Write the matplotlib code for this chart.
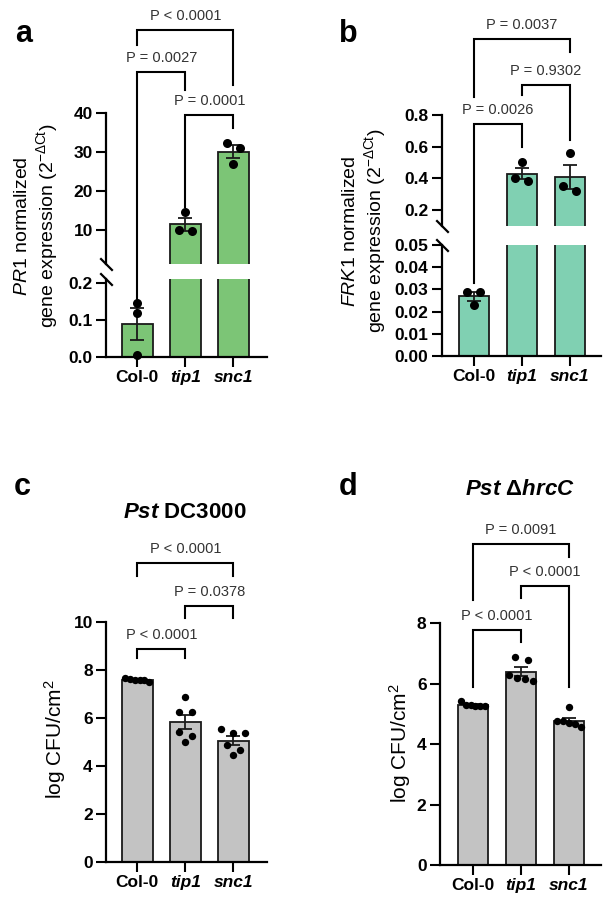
import numpy as np
import matplotlib
matplotlib.use("Agg")
import matplotlib.pyplot as plt

plt.rcParams['font.family'] = ['Liberation Sans', 'DejaVu Sans']
plt.rcParams['mathtext.fontset'] = 'custom'
plt.rcParams['mathtext.rm'] = 'Liberation Sans'
plt.rcParams['mathtext.it'] = 'Liberation Sans:italic'
plt.rcParams['mathtext.bf'] = 'Liberation Sans:bold'
plt.rcParams['mathtext.bfit'] = 'Liberation Sans:italic:bold'

W, H = 606, 899

groups = ["Col-0", "tip1", "snc1"]

# a: PR1 expression, 3 reps per genotype
pr1_pts = [[0.147, 0.118, 0.005], [14.6, 9.8, 9.9], [32.2, 31.1, 27.0]]
# (i, j, bracket height, leg end i, leg end j, label) ; ("low", v) = value on lower axis
pr1_brackets = [(0, 2, 61.3, 57.4, 47.2, "P < 0.0001"),
                (0, 1, 50.6, ("low", 0.152), 45.9, "P = 0.0027"),
                (1, 2, 39.5, 16.0, 36.2, "P = 0.0001")]

# b: FRK1 expression
frk1_pts = [[0.029, 0.029, 0.023], [0.50, 0.385, 0.405], [0.56, 0.32, 0.35]]
frk1_brackets = [(0, 2, 1.278, 0.916, 1.2, "P = 0.0037"),
                 (1, 2, 0.99, 0.926, 0.642, "P = 0.9302"),
                 (0, 1, 0.743, ("low", 0.033), 0.60, "P = 0.0026")]

# c: Pst DC3000 growth, 6 reps
dc_pts = [[7.57, 7.66, 7.57, 7.61, 7.47, 7.57],
          [6.85, 6.23, 6.25, 5.42, 5.25, 4.98],
          [5.38, 5.55, 5.38, 4.65, 4.85, 4.45]]
dc_brackets = [(0, 2, 12.43, 11.9, 11.9, "P < 0.0001"),
               (1, 2, 10.65, 10.14, 10.14, "P = 0.0378"),
               (0, 1, 8.86, 8.47, 8.47, "P < 0.0001")]

# d: Pst hrcC growth
hrcc_pts = [[5.43, 5.28, 5.25, 5.27, 5.26, 5.28],
            [6.90, 6.79, 6.29, 6.18, 6.15, 6.10],
            [5.22, 4.68, 4.75, 4.76, 4.70, 4.58]]
hrcc_brackets = [(0, 2, 10.63, 8.77, 10.21, "P = 0.0091"),
                 (1, 2, 9.24, 8.83, 5.88, "P < 0.0001"),
                 (0, 1, 7.78, 5.89, 7.37, "P < 0.0001")]

fig = plt.figure(figsize=(W / 100, H / 100), dpi=100)


def px_rect(left, right, top, bottom):
    return [left / W, 1 - bottom / H, (right - left) / W, (bottom - top) / H]


def style(ax, xlim, ylim):
    ax.set_xlim(xlim)
    ax.set_ylim(ylim)
    ax.patch.set_alpha(0)
    for s in ("top", "right"):
        ax.spines[s].set_visible(False)
    for s in ("left", "bottom"):
        ax.spines[s].set_linewidth(1.6)
    ax.tick_params(length=7, width=1.5, pad=2.5, labelsize=12.5)
    ax.set_xticks([0, 1, 2], labels=groups, fontweight="bold")
    for lab in ax.get_xticklabels()[1:]:
        lab.set_fontstyle("italic")


def swarm(ax, x0, vals, gap=13, maxw=24, rowtol=7):
    # points closer than rowtol px vertically share one row, centred on the bar
    xy = np.column_stack([np.full(len(vals), x0), vals])
    ypx = ax.transData.transform(xy)[:, 1]
    order = np.argsort(-ypx)
    rows = []
    for k in order:
        if rows and ypx[rows[-1][0]] - ypx[k] < rowtol:
            rows[-1].append(k)
        else:
            rows.append([k])
    dx = np.zeros(len(vals))
    for row in rows:
        n = len(row)
        step = min(gap, maxw / max(n - 1, 1))
        for m, k in enumerate(row):
            dx[k] = (m - (n - 1) / 2) * step
    pxu = ax.transData.transform([(1, 0)])[0, 0] - ax.transData.transform([(0, 0)])[0, 0]
    return x0 + dx / pxu


def draw_group(ax, i, p, msize):
    m = np.mean(p)
    sem = np.std(p, ddof=1) / np.sqrt(len(p))
    ax.errorbar(i, m, yerr=sem, fmt="none", ecolor="#1a1a1a", elinewidth=1.3,
                capsize=5, capthick=1.3, zorder=2)
    xs = swarm(ax, i, p)
    ax.scatter(xs, p, s=msize ** 2, color="black", linewidths=0, zorder=3, clip_on=False)


def draw_brackets(ax, brackets, conv=None):
    for i, j, top, yi, yj, label in brackets:
        if isinstance(yi, tuple):
            yi = conv(yi[1])
        if isinstance(yj, tuple):
            yj = conv(yj[1])
        ax.plot([i, i, j, j], [yi, top, top, yj], color="black", lw=1.5,
                clip_on=False, solid_joinstyle="miter", zorder=4)
        ax.annotate(label, xy=((i + j) / 2, top), xytext=(0, 10), textcoords="offset points",
                    ha="center", va="center", fontsize=10.5, color="#333333",
                    annotation_clip=False)


brk = dict(marker=[(-1, 1), (1, -1)], markersize=9, linestyle="none", color="black",
           mec="black", mew=1.6, clip_on=False)


def broken_panel(r_up, r_low, xlim, yl_up, yl_low, t_up, t_low, f_up, f_low, pts, color, brackets):
    ax_up = fig.add_axes(r_up)
    ax_low = fig.add_axes(r_low)
    means = [np.mean(p) for p in pts]
    for ax, yl in ((ax_up, yl_up), (ax_low, yl_low)):
        style(ax, xlim, yl)
        ax.bar(range(3), means, width=0.64, color=color, edgecolor="#1a1a1a",
               linewidth=1.3, zorder=1)
        ax.set_xlim(xlim)
        ax.set_ylim(yl)
    ax_up.spines["bottom"].set_visible(False)
    ax_up.tick_params(axis="x", bottom=False, labelbottom=False)
    ax_up.set_yticks(t_up, labels=[f_up.format(t) for t in t_up], fontweight="bold")
    ax_low.set_yticks(t_low, labels=[f_low.format(t) for t in t_low], fontweight="bold")
    for i, p in enumerate(pts):
        ax = ax_low if max(p) < yl_low[1] else ax_up
        draw_group(ax, i, p, 6.5)

    def conv(v):
        disp = ax_low.transData.transform((0, v))
        return ax_up.transData.inverted().transform(disp)[1]

    draw_brackets(ax_up, brackets, conv)
    ax_up.plot([0], [0], transform=ax_up.transAxes, **brk)
    ax_low.plot([0], [1], transform=ax_low.transAxes, **brk)


def simple_panel(rect, xlim, ylim, ticks, pts, brackets):
    ax = fig.add_axes(rect)
    style(ax, xlim, ylim)
    means = [np.mean(p) for p in pts]
    ax.bar(range(3), means, width=0.64, color="#c3c3c3", edgecolor="#1a1a1a",
           linewidth=1.3, zorder=1)
    ax.set_xlim(xlim)
    ax.set_ylim(ylim)
    ax.set_yticks(ticks, labels=[str(t) for t in ticks], fontweight="bold")
    for i, p in enumerate(pts):
        draw_group(ax, i, p, 5.3)
    draw_brackets(ax, brackets)


# a
broken_panel(px_rect(106, 267, 113, 264), px_rect(106, 267, 279, 356.7),
             (-0.65, 2.7), (1.3, 40), (0, 0.2117), [10, 20, 30, 40], [0.0, 0.1, 0.2],
             "{:.0f}", "{:.1f}", pr1_pts, "#7cc576", pr1_brackets)
# b
broken_panel(px_rect(441.5, 601, 115, 225.8), px_rect(441.5, 601, 245, 356),
             (-0.677, 2.646), (0.1, 0.8), (0, 0.05), [0.2, 0.4, 0.6, 0.8],
             [0.0, 0.01, 0.02, 0.03, 0.04, 0.05],
             "{:.1f}", "{:.2f}", frk1_pts, "#80d0b2", frk1_brackets)
# c
simple_panel(px_rect(106, 267, 621.7, 861.7), (-0.65, 2.7), (0, 10), [0, 2, 4, 6, 8, 10],
             dc_pts, dc_brackets)
# d
simple_panel(px_rect(439.7, 601.3, 623.3, 865), (-0.694, 2.673), (0, 8), [0, 2, 4, 6, 8],
             hrcc_pts, hrcc_brackets)

# panel letters, titles, axis labels
for ch, x, y in (("a", 24, 42), ("b", 348, 42), ("c", 22, 495), ("d", 348, 495)):
    fig.text(x / W, 1 - y / H, ch, fontsize=22, fontweight="bold", ha="center", va="baseline")

fig.text(185 / W, 1 - 518 / H, r"$\mathbfit{Pst}$ DC3000", fontsize=16, fontweight="bold",
         ha="center", va="baseline")
fig.text(520 / W, 1 - 495 / H, r"$\mathbfit{Pst}$ Δ$\mathbfit{hrcC}$", fontsize=16,
         fontweight="bold", ha="center", va="baseline")

fig.text(37 / W, 1 - 226 / H,
         "$\\mathit{PR1}$ normalized\ngene expression (2$^{\\mathregular{-ΔCt}}$)",
         rotation=90, ha="center", va="center", multialignment="center", fontsize=14)
fig.text(365 / W, 1 - 231 / H,
         "$\\mathit{FRK1}$ normalized\ngene expression (2$^{\\mathregular{-ΔCt}}$)",
         rotation=90, ha="center", va="center", multialignment="center", fontsize=14)
fig.text(55 / W, 1 - 739 / H, r"log CFU/cm$^{\mathregular{2}}$", rotation=90,
         ha="center", va="center", fontsize=15)
fig.text(400 / W, 1 - 743 / H, r"log CFU/cm$^{\mathregular{2}}$", rotation=90,
         ha="center", va="center", fontsize=15)

fig.savefig("out.png", dpi=100, facecolor="white")
